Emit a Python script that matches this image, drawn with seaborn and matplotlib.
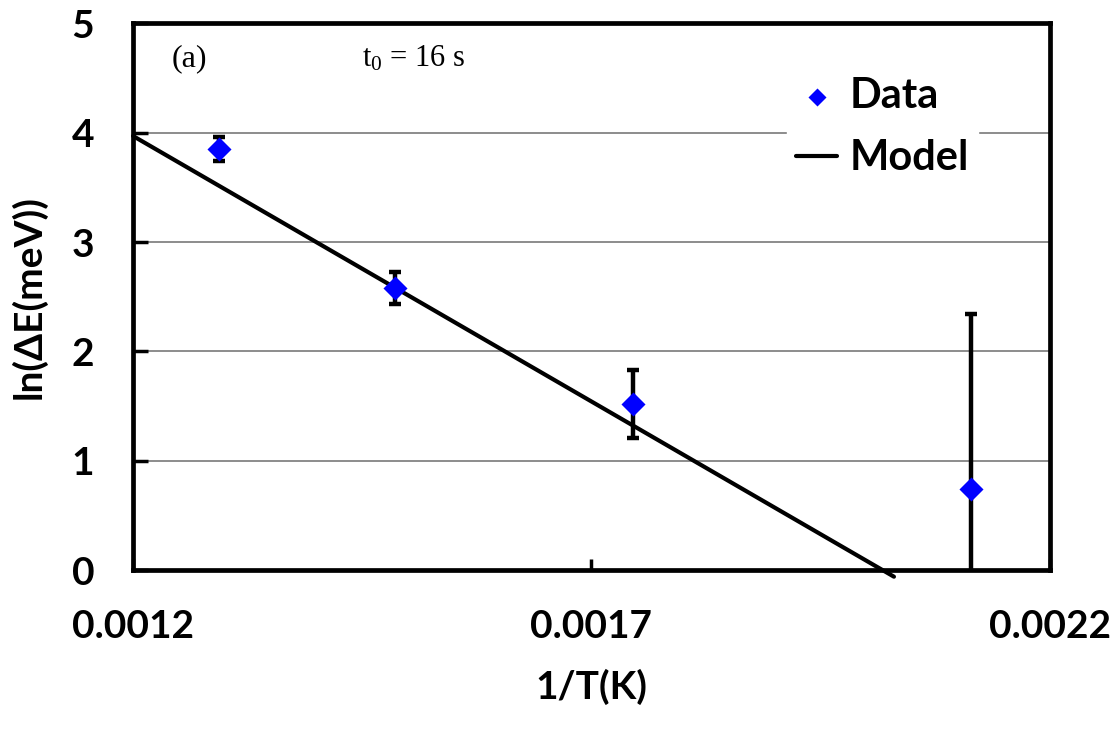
import matplotlib
matplotlib.use("Agg")
import matplotlib.pyplot as plt
import seaborn as sns
import pandas as pd

sns.set_theme(style="white")
plt.rcParams["font.family"] = ["Lato", "DejaVu Sans"]
plt.rcParams["mathtext.fontset"] = "custom"
plt.rcParams["mathtext.rm"] = "Liberation Serif"
plt.rcParams["mathtext.it"] = "Liberation Serif:italic"
for key in ("text.color", "axes.labelcolor", "xtick.color", "ytick.color"):
    plt.rcParams[key] = "black"

# Measured points: inverse temperature vs log of energy spread
inv_T = [0.001294, 0.001486, 0.001745, 0.002114]
ln_dE = [3.85, 2.58, 1.52, 0.74]
ln_dE_err = [0.11, 0.15, 0.31, 1.60]

# Fitted Arrhenius-type model line
model_x = [0.00120, 0.00203]
model_y = [3.97, -0.06]

x_ticks = [0.0012, 0.0017, 0.0022]
x_tick_labels = ["0.0012", "0.0017", "0.0022"]
y_ticks = [0, 1, 2, 3, 4, 5]

data = pd.DataFrame({"x": inv_T, "y": ln_dE, "err": ln_dE_err})
model = pd.DataFrame({"x": model_x, "y": model_y})

fig = plt.figure(figsize=(11.18, 7.30), dpi=100)
ax = fig.add_axes([0.119, 0.219, 0.820, 0.749])

ax.set_xlim(0.0012, 0.0022)
ax.set_ylim(0, 5)

# horizontal gridlines
for yv in y_ticks[1:-1]:
    ax.axhline(yv, color="#8c8c8c", lw=1.4, zorder=0)

# error bars
ax.errorbar(data["x"], data["y"], yerr=data["err"], fmt="none",
            ecolor="black", elinewidth=3.2, capsize=4, capthick=3.2, zorder=3)

sns.lineplot(data=model, x="x", y="y", ax=ax, color="black", lw=3.0,
             label="Model", zorder=2, clip_on=False)
sns.scatterplot(data=data, x="x", y="y", ax=ax, marker="D", s=150,
                color="#0000ff", edgecolor="#0000ff", linewidth=0,
                label="Data", zorder=4)

for sp in ax.spines.values():
    sp.set_visible(True)
    sp.set_color("black")
    sp.set_linewidth(3.4)

ax.set_xticks(x_ticks)
ax.set_xticklabels(x_tick_labels)
ax.set_yticks(y_ticks)
ax.tick_params(axis="y", direction="in", length=11, width=2.5, pad=28,
               labelsize=28, left=True)
ax.tick_params(axis="x", direction="in", length=8, width=2.5, pad=28,
               labelsize=28, bottom=True)
for lab in ax.get_xticklabels() + ax.get_yticklabels():
    lab.set_fontweight("bold")

ax.set_xlabel("1/T(K)", fontsize=28, fontweight="bold", labelpad=18)
ax.set_ylabel("ln(ΔE(meV))", fontsize=28, fontweight="bold", labelpad=18)

ax.text(0.042, 0.935, "(a)", transform=ax.transAxes, fontsize=23,
        family="Liberation Serif", va="center", ha="left")
ax.text(0.250, 0.935, "t$_0$ = 16 s", transform=ax.transAxes, fontsize=22,
        family="Liberation Serif", va="center", ha="left")

handles, labels = ax.get_legend_handles_labels()
order = [labels.index("Data"), labels.index("Model")]
leg = ax.legend([handles[i] for i in order], [labels[i] for i in order],
                loc="upper right", bbox_to_anchor=(0.944, 0.955),
                frameon=True, framealpha=1, facecolor="white",
                edgecolor="white", fontsize=30, handlelength=1.0,
                handletextpad=0.3, labelspacing=0.58, borderpad=0.2,
                markerscale=0.75)
for t in leg.get_texts():
    t.set_fontweight("bold")

fig.savefig("out.png", dpi=100, facecolor="white")
